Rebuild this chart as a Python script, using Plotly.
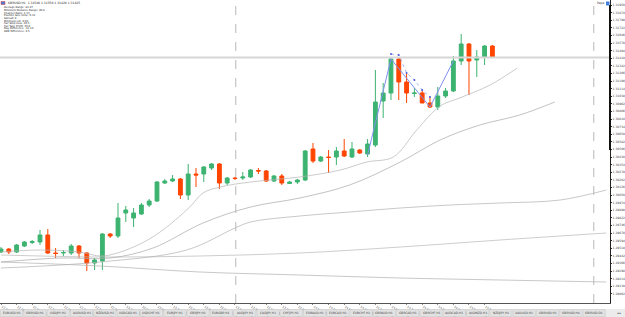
import plotly.graph_objects as go
import pandas as pd

# ---------------- data ----------------
bar_index = list(range(64))
open_ = [1.2948,1.2951,1.2948,1.2954,1.29575,1.2958,1.2965,1.2947,1.2947,1.2947,1.2954,1.2947,1.2937,1.2939,1.2966,1.2964,
         1.2987,1.2982,1.2986,1.2995,1.2999,1.3017,1.3019,1.3021,1.3005,1.3026,1.3026,1.3032,1.3036,1.3017,1.3022,1.3022,
         1.3023,1.30295,1.3029,1.3019,1.3024,1.30165,1.3018,1.3020,1.3051,1.3039,1.3043,1.3043,1.3049,1.3043,1.3050,1.3046,
         1.3055,1.3099,1.3107,1.3141,1.3118,1.31065,1.3107,1.3097,1.3093,1.3104,1.3109,1.3139,1.3156,1.3140,1.3143,1.3154]
high = [1.2953,1.2952,1.2956,1.2959,1.2960,1.2970,1.2971,1.2952,1.2950,1.2956,1.2955,1.2948,1.2942,1.2967,1.2967,1.2997,
        1.2994,1.2992,1.2997,1.3001,1.3019,1.3021,1.3025,1.3022,1.3036,1.3032,1.3034,1.3037,1.3037,1.3023,1.3023,1.3028,
        1.3031,1.3032,1.3030,1.3025,1.3026,1.3019,1.3021,1.3050,1.3057,1.3044,1.3050,1.3053,1.3061,1.3058,1.3051,1.3061,
        1.3130,1.3117,1.3143,1.31425,1.3127,1.3112,1.3110,1.3103,1.3113,1.3112,1.3144,1.3166,1.3157,1.3150,1.3155,1.3155]
low = [1.2947,1.2946,1.2947,1.2953,1.2956,1.2955,1.2946,1.2942,1.2944,1.2945,1.2942,1.2929,1.2930,1.2930,1.2962,1.2962,
       1.2978,1.2973,1.2985,1.2993,1.2998,1.3016,1.3018,1.3001,1.3000,1.3013,1.3018,1.3030,1.3011,1.3015,1.3020,1.3020,
       1.3022,1.3026,1.3018,1.3018,1.3015,1.3016,1.3016,1.3019,1.3037,1.3038,1.3027,1.3035,1.3043,1.3042,1.3046,1.3043,
       1.3053,1.3082,1.3100,1.3100,1.3097,1.3103,1.3097,1.3092,1.3090,1.3102,1.3108,1.3135,1.3105,1.3123,1.3135,1.3142]
close = [1.2951,1.2948,1.2955,1.2958,1.29585,1.2965,1.2947,1.29465,1.29475,1.2954,1.2947,1.2937,1.2940,1.2966,1.2964,1.2982,
         1.2990,1.2987,1.2995,1.2999,1.3018,1.3019,1.3021,1.3005,1.3026,1.3025,1.3033,1.3036,1.3017,1.3022,1.30215,1.3023,
         1.3030,1.3029,1.3019,1.3024,1.3017,1.3018,1.3020,1.3049,1.3039,1.3043,1.30425,1.3049,1.3044,1.3051,1.3047,1.3056,
         1.3098,1.3107,1.3141,1.3118,1.3107,1.3107,1.3097,1.3093,1.3104,1.3109,1.3139,1.3156,1.3139,1.3143,1.3154,1.31425]

# moving averages (shifted ones run past the last bar)
ma1_x = [0, 5, 10, 13, 17, 20.4, 24.2, 25.9, 28.1, 32, 38.3, 43.5, 46.9, 50.3, 53.3, 56.3, 58.8, 62.7, 66.2]
ma1_y = [1.2948,1.2950,1.2948,1.2944,1.2953,1.2968,1.2993,1.3007,1.3013,1.3018,1.3023,1.3030,1.3038,1.3043,1.3070,1.3094,1.3102,1.3115,1.3132]
ma2_x = [0, 7.6, 14, 19.5, 25.9, 32, 38.3, 44.7, 51.2, 56.3, 61.4, 66.5, 71]
ma2_y = [1.2938,1.2942,1.2942,1.2952,1.2977,1.2993,1.3002,1.3015,1.3038,1.3060,1.3075,1.3085,1.3098]
ma3_x = [0, 12.7, 23.8, 30, 32, 38.3, 44.7, 51.2, 57.6, 64, 71.7, 77.6]
ma3_y = [1.2932,1.2938,1.2950,1.2972,1.2978,1.2984,1.2988,1.2992,1.2995,1.2997,1.3000,1.3010]
ma4_x = [0, 12.7, 25.5, 38.3, 51.2, 64, 77.6]
ma4_y = [1.2945,1.2943,1.2944,1.2947,1.2953,1.2960,1.2967]
ma5_x = [0, 12.7, 25.5, 38.3, 51.2, 64, 77.6]
ma5_y = [1.2938,1.2934,1.2928,1.2925,1.2922,1.2920,1.2918]

zigzag_x = [47, 50, 55, 58]
zigzag_y = [1.3045, 1.3141, 1.3093, 1.3139]
fractal_x = [50, 51, 52, 53, 54, 55]
fractal_y = [1.3146, 1.3145, 1.3127, 1.3120, 1.3110, 1.3103]

bid_price = 1.31425
separators = [30.1, 76.0]

info_lines = ["Average Range: 83.47", "Minimum Distance Range: 40.8", "Channel Ratio: 1.23",
              "Position Size (lots): 0.33", "Spread: 8", "Minimum Lot: 0.01", "Fair Stop Loss: 30.5",
              "Fair Take Profit: 45.0", "Day Difference: -12.34", "ADR Difference: 4.5"]
title_text = "GBPUSD,H1  1.31540 1.31550 1.31420 1.31425"
tab_names = ["EURUSD,H1", "GBPUSD,H1", "USDJPY,H1", "AUDUSD,H1", "NZDUSD,H1", "USDCAD,H1", "USDCHF,H1",
             "EURJPY,H1", "GBPJPY,H1", "EURGBP,H1", "AUDJPY,H1", "CADJPY,H1", "CHFJPY,H1", "EURAUD,H1",
             "EURCAD,H1", "EURCHF,H1", "GBPAUD,H1", "GBPCAD,H1", "GBPCHF,H1", "AUDCAD,H1", "AUDNZD,H1",
             "NZDJPY,H1", "XAUUSD,H1", "GBPUSD,H1", "GBPUSD,H4", "GBPUSD,D1"]

# ---------------- figure ----------------
W, H = 625, 317
ML, MR, MT, MB = 0, 15, 0, 14
PW, PH = W - ML - MR, H - MT - MB


def px(xp):
    return (xp - ML) / PW


def py(yp):
    return 1 - (yp - MT) / PH


fig = go.Figure()

line_col = "#c4c4c4"
for xs, ys, c in [(ma5_x, ma5_y, "#b0b0b0"), (ma4_x, ma4_y, "#b8b8b8"), (ma3_x, ma3_y, "#b0b0b0"),
                  (ma2_x, ma2_y, "#a8a8a8"), (ma1_x, ma1_y, "#b4b4b4")]:
    fig.add_trace(go.Scatter(x=xs, y=ys, mode="lines", line=dict(color=c, width=0.7, shape="spline"),
                             hoverinfo="skip", showlegend=False))

fig.add_trace(go.Candlestick(x=bar_index, open=open_, high=high, low=low, close=close,
                             increasing=dict(line=dict(color="#3cb371", width=1), fillcolor="#3cb371"),
                             decreasing=dict(line=dict(color="#ff4500", width=1), fillcolor="#ff4500"),
                             whiskerwidth=0, showlegend=False))

fig.add_trace(go.Scatter(x=zigzag_x, y=zigzag_y, mode="lines", line=dict(color="#8090ee", width=1),
                         hoverinfo="skip", showlegend=False))
fig.add_trace(go.Scatter(x=fractal_x, y=fractal_y, mode="lines+markers",
                         line=dict(color="#8090ee", width=0.7, dash="dot"),
                         marker=dict(color="#5060e0", size=2), hoverinfo="skip", showlegend=False))

# bid line
fig.add_hline(y=bid_price, line=dict(color="#d6d6d6", width=2))
for s in separators:
    fig.add_vline(x=s, line=dict(color="#b8b8b8", width=1, dash="dash"))

# y ticks
ytick_vals = [1.31950 - k * 0.00076 for k in range(39)]
ytick_text = [f"{v:.5f}" for v in ytick_vals]

# x tick labels
times = pd.date_range("2020-02-12 08:00", periods=64, freq="h")
xtick_vals = bar_index[::2]
xtick_text = [times[i].strftime("%d %b %H:%M") for i in xtick_vals]
xtick_text[0] = times[0].strftime("%d %b %Y")

fig.update_layout(
    width=W, height=H, margin=dict(l=ML, r=MR, t=MT, b=MB),
    paper_bgcolor="white", plot_bgcolor="white",
    font=dict(family="DejaVu Sans", size=3, color="#333"),
    xaxis=dict(range=[-0.128, 78.08], showgrid=False, zeroline=False, rangeslider=dict(visible=False),
               tickvals=xtick_vals, ticktext=xtick_text, ticks="outside", ticklen=1, tickcolor="#888",
               tickfont=dict(size=3, color="#444"), showline=True, linecolor="#555", linewidth=1,
               mirror=False, ticklabelposition="outside right"),
    yaxis=dict(range=[1.2897, 1.3200], side="right", showgrid=False, zeroline=False,
               tickvals=ytick_vals, ticktext=ytick_text, tickfont=dict(size=3, color="#444"),
               ticks="outside", ticklen=1, tickcolor="#333", showline=True, linecolor="#222", linewidth=1),
    hovermode=False,
)

# thick segment of the price scale
fig.add_shape(type="line", xref="paper", yref="y", x0=1, x1=1, y0=1.3195, y1=1.3050,
              line=dict(color="#111", width=2))

# top-left info block
fig.add_shape(type="rect", xref="paper", yref="paper", x0=px(1), x1=px(5), y0=py(1.5), y1=py(4.5),
              fillcolor="#5577cc", line=dict(color="#cc4444", width=0.5))
fig.add_annotation(x=px(6), y=py(3), xref="paper", yref="paper", text=title_text, showarrow=False,
                   xanchor="left", yanchor="middle", font=dict(size=3, color="#222"))
for k, t in enumerate(info_lines):
    fig.add_annotation(x=px(1.5), y=py(8 + 2.6 * k), xref="paper", yref="paper", text=t, showarrow=False,
                       xanchor="left", yanchor="middle", font=dict(size=2.6, color="#222"))

# top-right label
fig.add_annotation(x=px(605.5), y=py(3.5), xref="paper", yref="paper", text="Pepe", showarrow=False,
                   xanchor="right", yanchor="middle", font=dict(size=3, color="#333"))
fig.add_shape(type="rect", xref="paper", yref="paper", x0=px(606), x1=px(609.5), y0=py(1.5), y1=py(5.5),
              fillcolor="#3f7fd8", line=dict(width=0))

# bottom tab bar
fig.add_shape(type="rect", xref="paper", yref="paper", x0=0, x1=px(625), y0=py(309), y1=py(317),
              fillcolor="#ececec", line=dict(width=0), layer="below")
tab_w = 23.3
for k, name in enumerate(tab_names):
    x0 = k * tab_w
    fig.add_shape(type="rect", xref="paper", yref="paper", x0=px(x0 + 0.5), x1=px(x0 + tab_w - 0.5),
                  y0=py(309.5), y1=py(316.5), fillcolor="#e2e2e2", line=dict(color="#c4c4c4", width=0.5))
    fig.add_annotation(x=px(x0 + tab_w / 2), y=py(313), xref="paper", yref="paper", text=name, showarrow=False,
                       xanchor="center", yanchor="middle", font=dict(size=3, color="#444"))
fig.add_annotation(x=px(619), y=py(313), xref="paper", yref="paper", text="◂ ▸", showarrow=False,
                   xanchor="center", yanchor="middle", font=dict(size=3, color="#444"))

fig.write_html("out.html")
